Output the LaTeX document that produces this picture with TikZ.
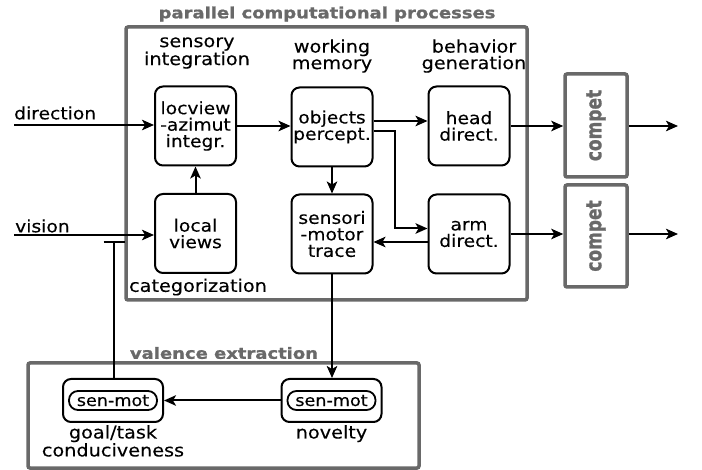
\documentclass[tikz,border=0pt]{standalone}
\usepackage{fontspec}
\setmainfont{DejaVu Sans}
\newfontfamily\boxfont{DejaVu Sans}[FakeStretch=1.1,FakeBold=0.2]
\newfontfamily\ttlfont{DejaVu Sans Bold}[FakeStretch=1.16,FakeBold=1.2]
\newfontfamily\cmpfont{DejaVu Sans Bold}[FakeBold=1.2]
\usetikzlibrary{arrows.meta,calc}
\definecolor{framegray}{RGB}{105,105,105}
\begin{document}
\begin{tikzpicture}[x=1pt,y=-1pt,
  every node/.style={font=\boxfont\fontsize{17}{16.5}\selectfont},
  blk/.style={draw, line width=2pt, rounded corners=8pt, minimum width=81pt, minimum height=79pt, align=center, inner sep=0pt},
  sbox/.style={draw, line width=2pt, rounded corners=8pt, minimum width=100pt, minimum height=43pt, inner sep=0pt},
  pill/.style={draw, line width=1.8pt, rounded corners=9pt, minimum width=88pt, minimum height=19pt, inner sep=0pt, font=\boxfont\fontsize{16}{16}\selectfont},
  lab/.style={align=center, inner sep=0pt, font=\boxfont\fontsize{17.5}{16.5}\selectfont},
  side/.style={inner sep=0pt, anchor=west},
  title/.style={font=\ttlfont\fontsize{15.5}{16}\selectfont, text=framegray, inner sep=0pt},
  cmptext/.style={font=\cmpfont\fontsize{17}{17}\selectfont, text=framegray, inner sep=0pt, rotate=90, yscale=1.25},
  gframe/.style={draw=framegray, line width=3.5pt, rounded corners=2pt, inner sep=0pt},
  arr/.style={line width=2pt, -{Stealth[length=12pt,width=10.5pt,inset=3pt]}},
  inh/.style={line width=2pt, -{Bar[width=21pt]}}
]
\useasboundingbox (0,0) rectangle (702,470);

% frames
\node[gframe, minimum width=401pt, minimum height=273pt] (par) at (326.5,163.5) {};
\node[gframe, minimum width=391pt, minimum height=105pt] (val) at (223.5,415.5) {};
\node[title] (ptitle) at (327,14) {parallel computational processes};
\node[title] (vtitle) at (224,353) {valence extraction};

% column labels
\node[lab] (lsens) at (197,53) {sensory\\integration};
\node[lab] (lwork) at (332,56) {working\\memory};
\node[lab] (lbeh) at (474,56) {behavior\\generation};
\node[lab] (lcat) at (198,287) {categorization};
\node[side] (ldir) at (14,113) {direction};
\node[side] (lvis) at (15,226) {vision};

% main boxes
\node[blk] (locview) at (195.5,126) {locview\\-azimut\\integr.};
\node[blk] (objects) at (332,127) {objects\\percept.};
\node[blk] (head) at (469,126) {head\\direct.};
\node[blk] (local) at (195.5,233.5) {local\\views};
\node[blk] (sensori) at (332,234) {sensori\\-motor\\trace};
\node[blk] (arm) at (469,234) {arm\\direct.};

% compet boxes
\node[gframe, minimum width=62pt, minimum height=103pt] (compet1) at (596,125.5) {};
\node[cmptext] (ct1) at (compet1) {compet};
\node[gframe, minimum width=62pt, minimum height=102pt] (compet2) at (596,236) {};
\node[cmptext] (ct2) at (compet2) {compet};

% valence boxes
\node[sbox] (goal) at (113,400.5) {};
\node[pill] (pg) at (goal) {sen-mot};
\node[sbox] (novelty) at (331.5,400.5) {};
\node[pill] (pn) at (novelty) {sen-mot};
\node[lab, anchor=north] (goallab) at ([yshift=-2pt]goal.south) {goal/task\\conduciveness};
\node[lab, anchor=north] (novlab) at ([yshift=-2pt]novelty.south) {novelty};

% coordinates
\coordinate (dirs) at (14,125);
\coordinate (viss) at (14,235);
\coordinate (tb) at (114,241);
\coordinate (out1) at (678,126);
\coordinate (out2) at (678,234);

% connectors
\draw[arr] (dirs) -- (dirs -| locview.west);
\draw[arr] (viss) -- (viss -| local.west);
\draw[inh] (goal.north -| tb) -- (tb);
\draw[arr] (locview.east) -- (locview.east -| objects.west);
\draw[arr] (local.north) -- (locview.south);
\draw[arr] ([yshift=6pt]objects.east) -- ([yshift=6pt]objects.east -| head.west);
\draw[arr] ([yshift=-4pt]objects.east) -- ++(21,0) |- ([yshift=5.5pt]arm.west);
\draw[arr] ([yshift=-8pt]arm.west) -- ([yshift=-8pt]arm.west -| sensori.east);
\draw[arr] (objects.south) -- (sensori.north);
\draw[arr] (head.east) -- (head.east -| compet1.west);
\draw[arr] (compet1.east |- out1) -- (out1);
\draw[arr] (arm.east) -- (arm.east -| compet2.west);
\draw[arr] (compet2.east |- out2) -- (out2);
\draw[arr] (sensori.south) -- (sensori.south |- novelty.north);
\draw[arr] (novelty.west) -- (goal.east);
\end{tikzpicture}
\end{document}
